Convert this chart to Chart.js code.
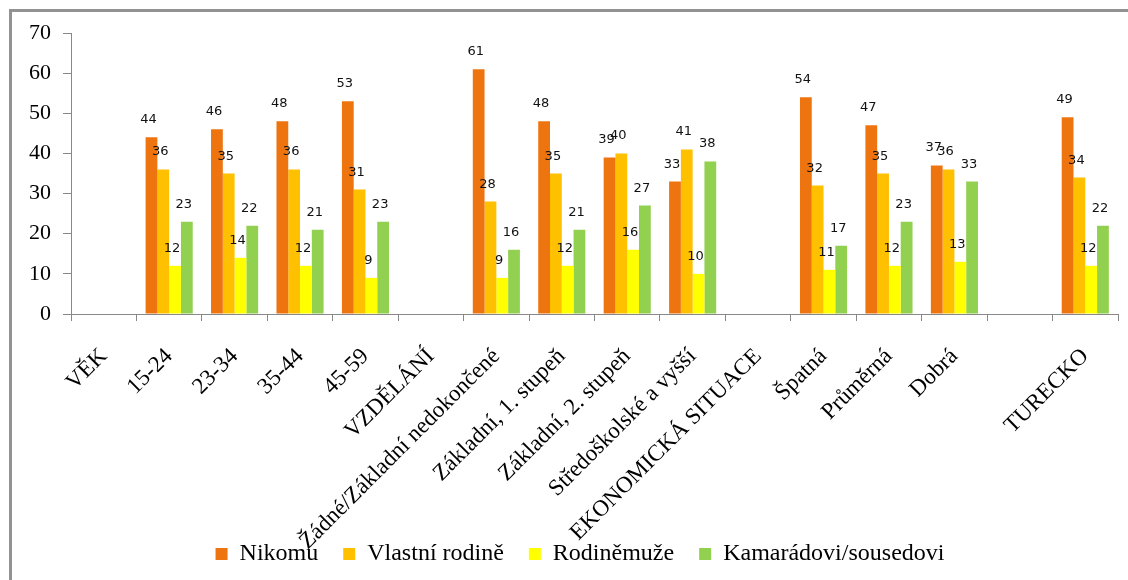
<!DOCTYPE html>
<html>
<head>
<meta charset="utf-8">
<script src="https://cdn.jsdelivr.net/npm/chart.js@4/dist/chart.umd.min.js"></script>
<style>
  html, body { margin: 0; padding: 0; background: #fff; }
  #wrap { position: relative; width: 1128px; height: 580px; }
  #frame { position: absolute; left: 9px; top: 9px; right: 0; bottom: 0;
           border-left: 3px solid #929292; border-top: 3px solid #929292; pointer-events: none; }
</style>
</head>
<body>
<div id="wrap">
  <canvas id="chart" width="1128" height="580"></canvas>
  <div id="frame"></div>
</div>
<script>
const categories = ["VĚK", "15-24", "23-34", "35-44", "45-59", "VZDĚLÁNÍ",
  "Žádné/Základní nedokončené", "Základní, 1. stupeň", "Základní, 2. stupeň",
  "Středoškolské a vyšší", "EKONOMICKÁ SITUACE", "Špatná", "Průměrná", "Dobrá", "", "TURECKO"];

const nikomu      = [null, 44, 46, 48, 53, null, 61, 48, 39, 33, null, 54, 47, 37, null, 49];
const vlastniRod  = [null, 36, 35, 36, 31, null, 28, 35, 40, 41, null, 32, 35, 36, null, 34];
const rodineMuze  = [null, 12, 14, 12,  9, null,  9, 12, 16, 10, null, 11, 12, 13, null, 12];
const kamaradovi  = [null, 23, 22, 21, 23, null, 16, 21, 27, 38, null, 17, 23, 33, null, 22];

const yTicks = [0, 10, 20, 30, 40, 50, 60, 70];

// value labels above bars, like the excel original
const valueLabels = {
    id: 'valueLabels',
    afterDatasetsDraw(chart) {
        const ctx = chart.ctx;
        ctx.save();
        ctx.font = '13px "DejaVu Sans"';
        ctx.fillStyle = '#111';
        ctx.textAlign = 'center';
        ctx.textBaseline = 'alphabetic';
        chart.data.datasets.forEach((ds, i) => {
            chart.getDatasetMeta(i).data.forEach((bar, j) => {
                const v = ds.data[j];
                if (v === null) return;
                ctx.fillText(String(v), bar.x - 3, bar.y - 14);
            });
        });
        ctx.restore();
    }
};

// legend sits a bit right of the canvas centre in the original,
// and the long category labels run down into the legend row
const layoutTweaks = {
    id: 'layoutTweaks',
    afterLayout(chart) {
        chart.legend.left += 15;
        chart.legend.right += 15;
        chart.scales.x.bottom = chart.height;
    }
};

new Chart(document.getElementById('chart'), {
    type: 'bar',
    data: {
        labels: categories,
        datasets: [
            { label: "Nikomu", data: nikomu, backgroundColor: "#EE7410" },
            { label: "Vlastní rodině", data: vlastniRod, backgroundColor: "#FFC000" },
            { label: "Rodiněmuže", data: rodineMuze, backgroundColor: "#FFFF00" },
            { label: "Kamarádovi/sousedovi", data: kamaradovi, backgroundColor: "#92D050" },
        ],
    },
    options: {
        responsive: false,
        animation: false,
        layout: { padding: { left: 12, top: 33, right: 10, bottom: 4 } },
        datasets: {
            bar: { categoryPercentage: 0.72, barPercentage: 1.0 }
        },
        plugins: {
            legend: {
                position: 'bottom',
                labels: {
                    font: { family: '"Liberation Serif"', size: 24 },
                    color: '#000',
                    boxWidth: 12,
                    boxHeight: 12,
                    padding: 25,
                }
            },
            tooltip: { enabled: false },
        },
        scales: {
            x: {
                grid: { display: true, drawOnChartArea: false, drawTicks: true, tickLength: 7, color: '#888' },
                border: { color: '#888' },
                ticks: {
                    autoSkip: false,
                    maxRotation: 45,
                    minRotation: 45,
                    color: '#000',
                    padding: 22,
                    font: { family: '"Liberation Serif"', size: 23 },
                },
                afterFit: (s) => { s.height = 203; },
            },
            y: {
                min: 0,
                max: 70,
                afterBuildTicks: (s) => { s.ticks = yTicks.map(v => ({ value: v })); },
                grid: { display: true, drawOnChartArea: false, drawTicks: true, tickLength: 8, color: '#888' },
                border: { color: '#888' },
                ticks: {
                    color: '#000',
                    padding: 12,
                    font: { family: '"Liberation Serif"', size: 22 },
                },
                afterFit: (s) => { s.width = 59; },
            }
        }
    },
    plugins: [valueLabels, layoutTweaks]
});
</script>
</body>
</html>
